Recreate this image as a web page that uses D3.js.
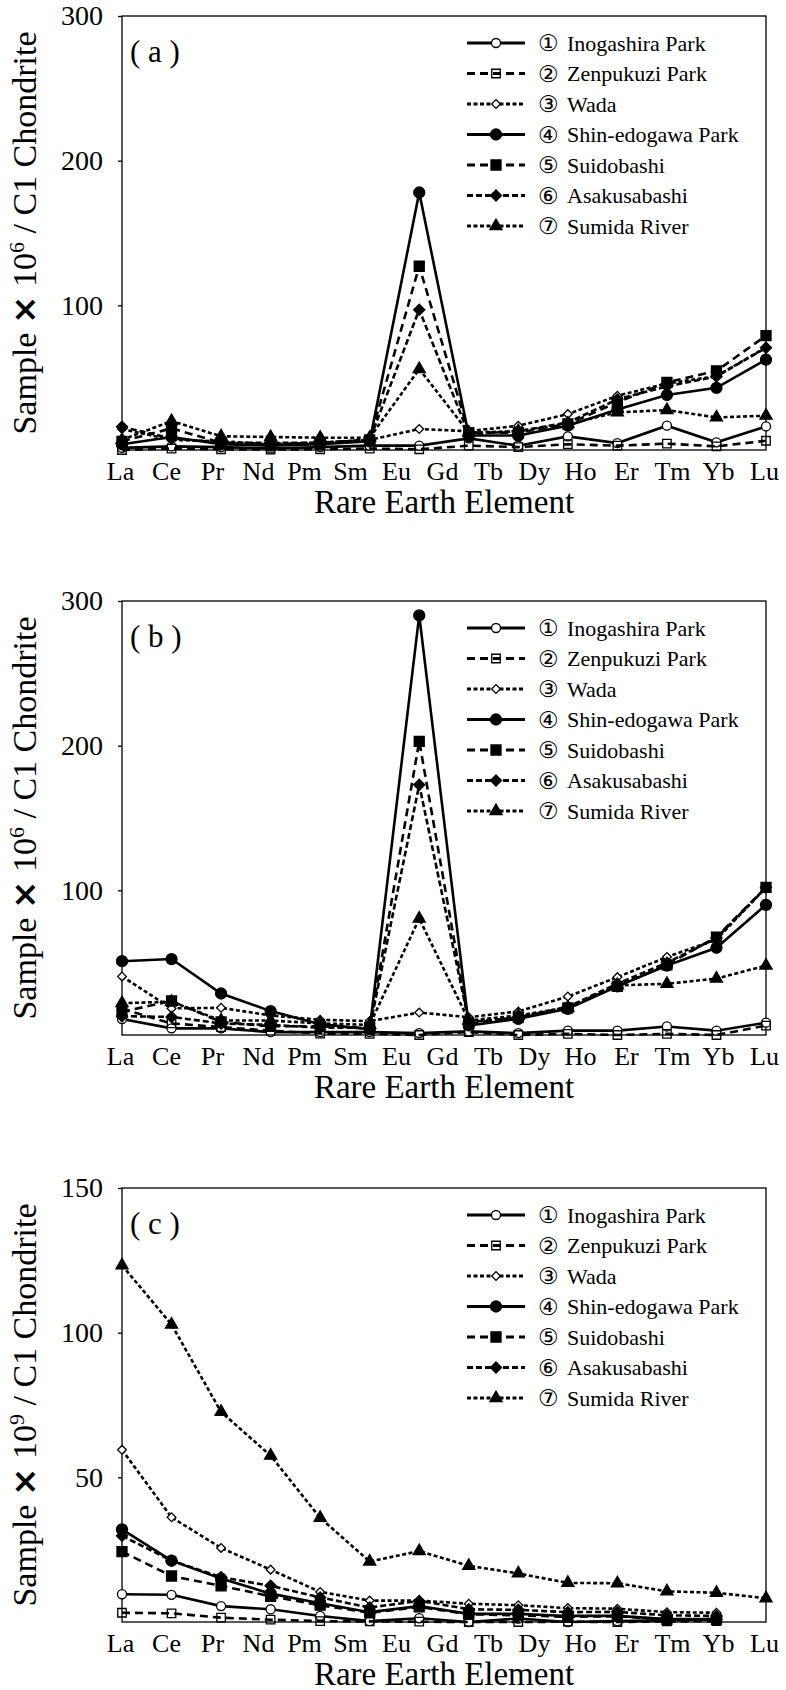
<!DOCTYPE html>
<html>
<head>
<meta charset="utf-8">
<script src="https://d3js.org/d3.v7.min.js"></script>
<style>
  body { margin: 0; background: #fff; }
  svg text { font-family: "Liberation Serif", "Times New Roman", serif; fill: #000; }
</style>
</head>
<body>
<div id="chart"></div>
<script>
// tick labels along the bottom (15 elements)
var elements = ["La", "Ce", "Pr", "Nd", "Pm", "Sm", "Eu", "Gd", "Tb", "Dy", "Ho", "Er", "Tm", "Yb", "Lu"];
// the plotted points: 14 positions spread over the full axis width
var pointKeys = ["La", "Ce", "Pr", "Nd", "Pm", "Sm", "Eu", "Gd", "Tb", "Dy", "Ho", "Er", "Tm", "Yb"];

var siteNames = ["Inogashira Park", "Zenpukuzi Park", "Wada", "Shin-edogawa Park", "Suidobashi", "Asakusabashi", "Sumida River"];
var siteNums = ["\u2460", "\u2461", "\u2462", "\u2463", "\u2464", "\u2465", "\u2466"];

// (a)  Sample x 10^6 / C1 chondrite
var inogashiraA = [1.5, 2.5, 2, 1, 2, 3, 3, 8, 3, 9.4, 4.8, 16.8, 5.3, 16.3];
var zenpukuziA = [0, 1, 0.5, 0.3, 0.5, 1, 0.5, 3, 2, 4, 3, 4.4, 2.5, 6.4];
var wadaA = [14.5, 7, 6, 4, 5, 7, 14.5, 13, 16.8, 24.8, 37.5, 46, 51, 71];
var shinEdogawaA = [4, 9, 4, 3, 4, 6, 178, 10, 10, 16.8, 28, 38, 43, 62.5];
var suidobashiA = [6, 15, 5, 4, 5, 7, 127, 12, 12, 18, 33, 46.7, 54.7, 79];
var asakusabashiA = [16, 8, 5, 5, 5, 7, 97, 11, 13, 19, 35, 44, 50.8, 70.7];
var sumidaA = [7, 20, 9.5, 9, 8.5, 8.5, 56, 12, 13, 18, 26, 27.6, 22.5, 23.7];

// (b)  Sample x 10^6 / C1 chondrite
var inogashiraB = [11, 4.6, 4.6, 2, 2, 2, 1.3, 2.5, 1.3, 3, 3, 5.9, 3, 8.5];
var zenpukuziB = [18, 8, 5.5, 3, 1, 0.8, 0, 2, 0, 0.8, 0, 0.8, 0, 6.5];
var wadaB = [40.5, 18.4, 18.8, 13.5, 10.5, 9.6, 15.5, 12.3, 16.3, 26.6, 40, 53.9, 66, 102];
var shinEdogawaB = [51, 52.5, 28.7, 16.5, 7.5, 4, 290, 6.6, 11.2, 18.1, 33.6, 48, 60.3, 90];
var suidobashiB = [16, 23.5, 9, 6, 6, 5, 203, 8, 12.3, 18.8, 33.6, 48.5, 67.7, 102];
var asakusabashiB = [13, 12.5, 8, 7, 5, 5, 173, 9, 12, 19.5, 35.4, 50, 67, 102];
var sumidaB = [22, 23, 10, 10, 8, 7, 80.5, 10, 13.5, 19, 34.3, 35.4, 39, 48];

// (c)  Sample x 10^9 / C1 chondrite
var inogashiraC = [9.6, 9.4, 5.5, 4.4, 2.1, 0.3, 1.3, 0, 1.2, 0, 0.3, 0.6, 0.9];
var zenpukuziC = [3.2, 3, 1.5, 0.8, 0.3, 0.2, 0.1, 0, 0, 0.1, 0, 0.2, 0.3];
var wadaC = [59.5, 36.2, 25.6, 18.1, 10.4, 7.4, 7.4, 6.3, 5.8, 4.8, 4.6, 3.4, 3.2];
var shinEdogawaC = [32, 21.2, 15, 9.8, 6.5, 3.4, 5.5, 2.8, 2.8, 2.1, 2.1, 1, 1];
var suidobashiC = [24.3, 15.9, 12.5, 8.9, 5.8, 3.2, 5.2, 2.7, 2.3, 1.8, 2, 0.9, 0.9];
var asakusabashiC = [29.8, 21.2, 15.5, 12.5, 8.5, 5, 7.3, 4.4, 4.2, 3.4, 3.5, 2.3, 2.1];
var sumidaC = [123.3, 102.8, 72.6, 57.5, 36, 20.9, 24.5, 19.4, 16.8, 13.5, 13.4, 10.6, 10.1, 8.2];

var panels = [
  {label: "( a )", top: 16, yMax: 300, ticks: [100, 200, 300], exp: "6",
   series: [inogashiraA, zenpukuziA, wadaA, shinEdogawaA, suidobashiA, asakusabashiA, sumidaA]},
  {label: "( b )", top: 601, yMax: 300, ticks: [100, 200, 300], exp: "6",
   series: [inogashiraB, zenpukuziB, wadaB, shinEdogawaB, suidobashiB, asakusabashiB, sumidaB]},
  {label: "( c )", top: 1188, yMax: 150, ticks: [50, 100, 150], exp: "9",
   series: [inogashiraC, zenpukuziC, wadaC, shinEdogawaC, suidobashiC, asakusabashiC, sumidaC]}
];

// line / marker look of each site
var styles = [
  {dash: null, shape: "circle", fill: "#fff", size: 64},
  {dash: "8,5", shape: "square", fill: "none", size: 72},
  {dash: "4,2.5", shape: "diamond", fill: "#fff", size: 38},
  {dash: null, shape: "circle", fill: "#000", size: 95},
  {dash: "8,5", shape: "square", fill: "#000", size: 100},
  {dash: "6,3", shape: "diamond", fill: "#000", size: 62},
  {dash: "4,2.5", shape: "triangle", fill: "#000", size: 64}
];

var serif = "'Liberation Serif', 'Times New Roman', serif";
var svgWidth = 786;
var svgHeight = 1690;
var margin = {left: 122, right: 20};
var width = svgWidth - margin.left - margin.right;
var height = 434;

var svg = d3.select("#chart")
  .append("svg")
  .attr("width", svgWidth)
  .attr("height", svgHeight);

var xPoint = d3.scalePoint().domain(pointKeys).range([0, width]);
var xLabel = d3.scalePoint().domain(elements).range([-2, width - 2]);

function markerPath(st) {
  var type = st.shape == "circle" ? d3.symbolCircle
    : st.shape == "triangle" ? d3.symbolTriangle
    : d3.symbolSquare;
  return d3.symbol().type(type).size(st.size)();
}

function drawMarker(g, st, x, y) {
  g.append("path")
    .attr("d", markerPath(st))
    .attr("transform", `translate(${x},${y})` + (st.shape == "diamond" ? " rotate(45)" : ""))
    .attr("fill", st.fill)
    .attr("stroke", "#000")
    .attr("stroke-width", 1.3);
}

panels.forEach(function(p) {
  var chartGroup = svg.append("g")
    .attr("transform", `translate(${margin.left}, ${p.top})`);

  var yLinearScale = d3.scaleLinear()
    .domain([0, p.yMax])
    .range([height, 0]);

  //axes
  var leftAxis = d3.axisLeft(yLinearScale).tickValues(p.ticks).tickSize(4).tickPadding(15);
  var yAxis = chartGroup.append("g").call(leftAxis);
  yAxis.select(".domain").remove();
  yAxis.attr("font-family", serif).attr("font-size", 28);
  yAxis.selectAll("line").attr("stroke-width", 1.3);

  var bottomAxis = d3.axisBottom(xLabel).tickSize(0).tickPadding(12);
  var xAxis = chartGroup.append("g")
    .attr("transform", `translate(0, ${height})`)
    .call(bottomAxis);
  xAxis.select(".domain").remove();
  xAxis.attr("font-family", serif).attr("font-size", 26);

  chartGroup.append("rect")
    .attr("width", width)
    .attr("height", height)
    .attr("fill", "none")
    .attr("stroke", "#000")
    .attr("stroke-width", 1.3);

  //lines + markers
  p.series.forEach(function(vals, i) {
    var st = styles[i];
    var line = d3.line()
      .x((d, j) => xPoint(pointKeys[j]))
      .y(d => yLinearScale(d));
    chartGroup.append("path")
      .datum(vals)
      .attr("d", line)
      .attr("fill", "none")
      .attr("stroke", "#000")
      .attr("stroke-width", 2.6)
      .attr("stroke-dasharray", st.dash);
    vals.forEach(function(v, j) {
      drawMarker(chartGroup, st, xPoint(pointKeys[j]), yLinearScale(v));
    });
  });

  //panel label
  chartGroup.append("text")
    .attr("x", 8)
    .attr("y", 46)
    .attr("font-family", serif)
    .attr("font-size", 31)
    .text(p.label);

  //legend
  siteNames.forEach(function(name, i) {
    var st = styles[i];
    var ly = 27 + i * 30.5;
    chartGroup.append("line")
      .attr("x1", 345).attr("x2", 403)
      .attr("y1", ly).attr("y2", ly)
      .attr("stroke", "#000")
      .attr("stroke-width", 2.8)
      .attr("stroke-dasharray", st.dash);
    drawMarker(chartGroup, st, 374, ly);
    chartGroup.append("text")
      .attr("x", 416)
      .attr("y", ly)
      .attr("dy", "0.35em")
      .attr("font-family", "'DejaVu Sans', sans-serif")
      .attr("font-size", 23)
      .text(siteNums[i]);
    chartGroup.append("text")
      .attr("x", 445)
      .attr("y", ly)
      .attr("dy", "0.35em")
      .attr("font-family", serif)
      .attr("font-size", 22)
      .text(name);
  });

  //axes labels
  chartGroup.append("text")
    .attr("x", width / 2)
    .attr("y", height + 63)
    .attr("text-anchor", "middle")
    .attr("font-family", serif)
    .attr("font-size", 33)
    .text("Rare Earth Element");

  var yTitle = chartGroup.append("text")
    .attr("transform", `translate(${36 - margin.left}, ${height / 2}) rotate(-90)`)
    .attr("text-anchor", "middle")
    .attr("font-family", serif)
    .attr("font-size", 34);
  yTitle.append("tspan").text("Sample ");
  yTitle.append("tspan")
    .attr("font-family", "'DejaVu Sans', sans-serif")
    .attr("font-weight", "bold")
    .text("\u00d7");
  yTitle.append("tspan").text(" 10");
  yTitle.append("tspan")
    .attr("font-size", 22)
    .attr("dy", -12)
    .text(p.exp);
  yTitle.append("tspan")
    .attr("dy", 12)
    .text(" / C1 Chondrite");
});
</script>
</body>
</html>
